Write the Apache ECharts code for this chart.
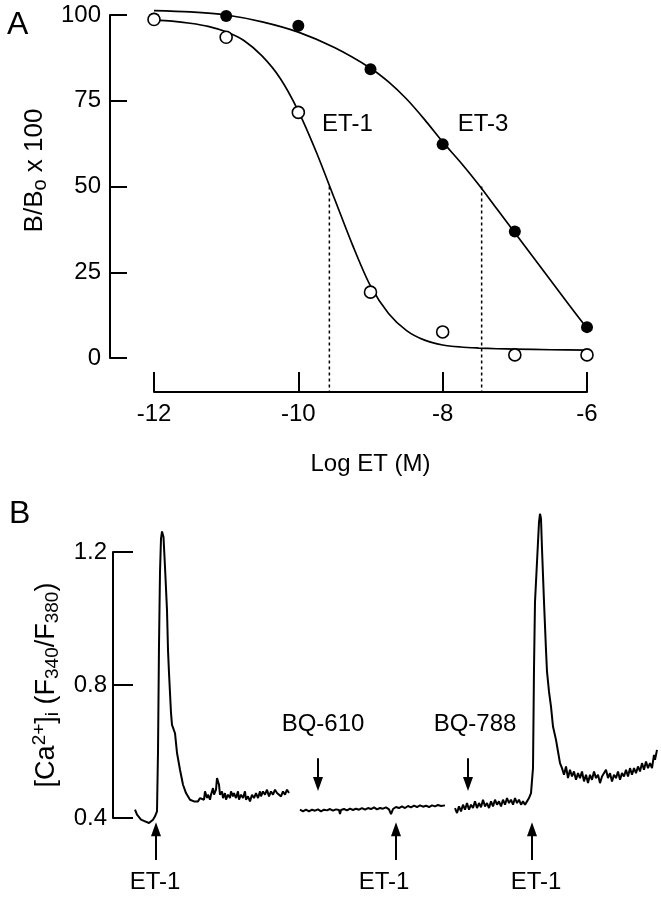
<!DOCTYPE html>
<html>
<head>
<meta charset="utf-8">
<script src="https://cdn.jsdelivr.net/npm/echarts@6/dist/echarts.min.js"></script>
<style>
html,body{margin:0;padding:0;background:#fff;}
#chart{width:661px;height:900px;}
</style>
</head>
<body>
<div id="chart"></div>
<script>
// ---------- Panel A data ----------
const logET = [-12, -11, -10, -9, -8, -7, -6];
const et1Points = [98.7, 93.5, 71.6, 19.2, 7.6, 0.9, 0.9];
const et3Points = [99.0, 99.7, 96.9, 84.2, 62.3, 36.9, 9.0];
const et1CurveX = [-12, -11.75, -11.5, -11.25, -11, -10.75, -10.5, -10.25, -10, -9.75, -9.5, -9.25, -9, -8.75, -8.5, -8.25, -8, -7.75, -7.5, -7.25, -7, -6.5, -6];
const et1CurveY = [98.5, 98.2, 97.6, 96.7, 95.1, 92.5, 88, 81.5, 72, 60, 46.5, 33, 21, 13, 8, 5.2, 3.8, 3.2, 2.9, 2.7, 2.6, 2.4, 2.3];
const et3CurveX = [-12, -11.5, -11, -10.5, -10, -9.5, -9, -8.75, -8.5, -8.25, -8, -7.75, -7.5, -7.25, -7, -6.75, -6.5, -6.25, -6];
const et3CurveY = [101.3, 100.9, 100, 98, 95, 90.5, 84.5, 80.5, 75.5, 69.5, 63, 57, 50.5, 43.5, 36.5, 29.5, 22.5, 15.5, 8.7];
const ic50LogET = [-9.57, -7.46];   // dotted lines at B/Bo = 50
const ic50Level = 50;
const xAxisLevel = -9.9;            // where the offset x axis sits, in B/Bo units
const xTicksA = [-12, -10, -8, -6];
const yTicksA = [0, 25, 50, 75, 100];
const curveLabelsA = ['ET-1', 'ET-3'];
const curveLabelPosA = [[-9.32, 68], [-7.44, 68]];

// ---------- Panel B data (time in arbitrary units, ratio F340/F380) ----------
const trace1 = [[22,0.425],[24,0.41],[26,0.405],[28,0.395],[30,0.40],[32,0.39],[34,0.395],[36,0.385],[38,0.39],[40,0.395],[42,0.405],[44,0.42],
  [45,0.6],[46,0.92],[47,1.14],[48,1.24],[49,1.262],[50.5,1.245],[52,1.155],[54,1.025],[55,0.905],[56,0.836],[58,0.716],[59,0.68],[60,0.672],[62,0.655],
  [64,0.596],[67,0.545],[70,0.50],[73,0.475],[75,0.47],[77,0.455],[79,0.46],[81,0.45],[83,0.455],[85,0.45],[87,0.46],[89,0.465],[91,0.455],[92,0.48],
  [94,0.46],[95,0.47],[97,0.455],[98,0.47],[100,0.49],[101,0.47],[103,0.485],[104,0.52],[106,0.50],[107,0.47],[109,0.48],[110,0.46],[112,0.475],
  [113,0.455],[115,0.47],[117,0.46],[118,0.48],[120,0.465],[121,0.475],[123,0.46],[125,0.48],[126,0.455],[128,0.47],[130,0.46],[132,0.48],[133,0.455],
  [135,0.465],[137,0.45],[139,0.47],[141,0.46],[143,0.475],[145,0.46],[147,0.48],[148,0.465],[150,0.48],[152,0.47],[154,0.485],[156,0.465],[158,0.48],
  [160,0.47],[162,0.485],[164,0.475],[166,0.48],[168,0.465],[170,0.48],[172,0.47],[174,0.485],[176,0.475]];
const trace2 = [[187,0.425],[190,0.42],[193,0.425],[196,0.42],[199,0.425],[202,0.422],[205,0.426],[208,0.42],[211,0.425],[214,0.423],[217,0.427],
  [220,0.422],[223,0.426],[226,0.424],[227,0.412],[228,0.424],[231,0.427],[234,0.423],[237,0.428],[240,0.424],[243,0.428],[246,0.425],[249,0.43],
  [252,0.425],[255,0.43],[258,0.427],[261,0.432],[264,0.426],[267,0.43],[270,0.428],[273,0.432],[276,0.426],[278,0.412],[280,0.427],[283,0.433],
  [286,0.43],[289,0.435],[292,0.43],[295,0.436],[298,0.432],[301,0.437],[304,0.433],[307,0.438],[310,0.434],[313,0.437],[316,0.433],[319,0.438],
  [322,0.435],[325,0.439],[328,0.436],[332,0.438]];
const trace3 = [[342,0.43],[344,0.415],[346,0.435],[348,0.42],[350,0.44],[352,0.425],[354,0.445],[356,0.425],[358,0.44],[360,0.43],[362,0.45],
  [364,0.43],[366,0.445],[368,0.432],[370,0.455],[372,0.435],[374,0.445],[376,0.43],[378,0.45],[380,0.435],[382,0.455],[384,0.44],[386,0.45],
  [388,0.435],[390,0.455],[392,0.44],[394,0.46],[396,0.445],[398,0.455],[400,0.44],[402,0.46],[404,0.445],[406,0.455],[408,0.44],[410,0.45],
  [412,0.44],[414,0.45],[416,0.46],[418,0.475],[420,0.55],[421,0.85],[422,1.05],[424,1.17],[425,1.23],[426,1.29],[427,1.315],[428,1.30],[429,1.21],
  [431,1.05],[433,0.905],[434,0.84],[436,0.78],[438,0.735],[440,0.675],[443,0.635],[445,0.6],[447,0.565],[449,0.55],[451,0.53],[453,0.555],
  [455,0.52],[457,0.545],[459,0.525],[461,0.54],[463,0.515],[465,0.535],[467,0.52],[469,0.54],[471,0.51],[473,0.53],[475,0.505],[477,0.53],
  [479,0.515],[481,0.54],[483,0.52],[485,0.53],[487,0.505],[489,0.525],[491,0.52],[493,0.545],[495,0.52],[497,0.535],[499,0.51],[501,0.53],
  [503,0.52],[505,0.54],[507,0.515],[509,0.535],[511,0.525],[513,0.545],[515,0.525],[517,0.55],[519,0.53],[521,0.55],[523,0.535],[525,0.555],
  [527,0.54],[529,0.565],[531,0.545],[533,0.57],[535,0.55],[537,0.565],[539,0.55],[541,0.59],[542,0.575],[544,0.605]];
const yTicksB = [0.4, 0.8, 1.2];
const upArrowT = [43, 283, 419];          // ET-1 additions
const upShaftFrom = 0.274, upHeadAt = 0.366;
const downArrowT = [205, 355];            // BQ-610, BQ-788
const downShaftFrom = 0.58, downHeadAt = 0.502;
const upLabels = ['ET-1', 'ET-1', 'ET-1'];
const upLabelT = [42, 271, 423];
const upLabelV = 0.205;
const downLabels = ['BQ-610', 'BQ-788'];
const downLabelT = [210, 362];
const downLabelV = 0.683;

// ---------- Chart ----------
const FONT = '"Liberation Sans", Arial, Helvetica, sans-serif';
const BLACK = '#000';
const FS = 24;
const zip = (xs, ys) => xs.map((x, i) => [x, ys[i]]);

const chart = echarts.init(document.getElementById('chart'), null, {renderer: 'canvas'});

const axisCommon = {
  axisLine: {show: true, onZero: false, lineStyle: {color: BLACK, width: 2}},
  axisTick: {show: true, inside: true, lineStyle: {color: BLACK, width: 2}},
  splitLine: {show: false},
  axisLabel: {color: BLACK, fontSize: FS, fontFamily: FONT}
};

const textOnly = {symbol: 'circle', symbolSize: 0, itemStyle: {color: '#fff', opacity: 1}, silent: true, clip: false, z: 6};
const labelStyle = {show: true, position: 'inside', formatter: p => p.name, fontSize: FS, color: BLACK, fontFamily: FONT,
  textBorderWidth: 0, opacity: 1};

const option = {
  animation: false,
  backgroundColor: '#fff',
  textStyle: {fontFamily: FONT, color: BLACK},
  grid: [
    {left: 154, right: 74, top: 15, height: 343},
    {left: 113, width: 548, top: 552, height: 266}
  ],
  xAxis: [
    Object.assign({}, axisCommon, {
      gridIndex: 0, type: 'value', min: xTicksA[0], max: xTicksA[xTicksA.length - 1], interval: 2, offset: 34,
      axisTick: {show: true, inside: true, length: 20, lineStyle: {color: BLACK, width: 2}},
      axisLabel: {color: BLACK, fontSize: FS, fontFamily: FONT, margin: 10},
      name: 'Log ET (M)', nameLocation: 'middle', nameGap: 60,
      nameTextStyle: {fontSize: FS, color: BLACK, fontFamily: FONT}
    }),
    {gridIndex: 1, type: 'value', min: 0, max: 548, show: false}
  ],
  yAxis: [
    Object.assign({}, axisCommon, {
      gridIndex: 0, type: 'value', min: yTicksA[0], max: yTicksA[yTicksA.length - 1], interval: 25, offset: 44,
      axisTick: {show: true, inside: true, length: 17, lineStyle: {color: BLACK, width: 2}},
      axisLabel: {color: BLACK, fontSize: FS, fontFamily: FONT, margin: 9},
      name: 'B/B{sub|o} x 100', nameLocation: 'middle', nameGap: 50,
      nameTextStyle: {fontSize: 26, color: BLACK, fontFamily: FONT, lineHeight: 30, padding: [0, 0, 0, 32],
        rich: {sub: {fontSize: 20, lineHeight: 22, verticalAlign: 'bottom', fontFamily: FONT, color: BLACK}}}
    }),
    Object.assign({}, axisCommon, {
      gridIndex: 1, type: 'value', min: yTicksB[0], max: yTicksB[yTicksB.length - 1], interval: 0.4,
      axisTick: {show: true, inside: true, length: 20, lineStyle: {color: BLACK, width: 2}},
      axisLabel: {color: BLACK, fontSize: FS, fontFamily: FONT, margin: 6, formatter: v => v.toFixed(1)},
      name: '[Ca{sup|2+}]{sub|i} (F{sub|340}/F{sub|380})', nameLocation: 'middle', nameGap: 46,
      nameTextStyle: {fontSize: 27, color: BLACK, fontFamily: FONT, lineHeight: 32,
        rich: {
          sub: {fontSize: 19, lineHeight: 24, verticalAlign: 'bottom', fontFamily: FONT, color: BLACK},
          sup: {fontSize: 19, lineHeight: 24, verticalAlign: 'top', fontFamily: FONT, color: BLACK}
        }}
    })
  ],
  series: [
    {type: 'line', xAxisIndex: 0, yAxisIndex: 0, data: zip(et3CurveX, et3CurveY), smooth: 0.3,
      symbol: 'none', clip: false, lineStyle: {color: BLACK, width: 1.7}, silent: true},
    {type: 'line', xAxisIndex: 0, yAxisIndex: 0, data: zip(et1CurveX, et1CurveY), smooth: 0.3,
      symbol: 'none', clip: false, lineStyle: {color: BLACK, width: 1.7}, silent: true},
    ...ic50LogET.map(x => ({type: 'line', xAxisIndex: 0, yAxisIndex: 0, data: [[x, ic50Level], [x, xAxisLevel]],
      symbol: 'none', clip: false, silent: true, lineStyle: {color: BLACK, width: 1.5, type: [3, 3]}})),
    {type: 'scatter', xAxisIndex: 0, yAxisIndex: 0, data: zip(logET, et3Points), symbol: 'circle', symbolSize: 12,
      itemStyle: {color: BLACK, opacity: 1}, clip: false, silent: true, z: 5},
    {type: 'scatter', xAxisIndex: 0, yAxisIndex: 0, data: zip(logET, et1Points), symbol: 'circle', symbolSize: 12,
      itemStyle: {color: '#fff', borderColor: BLACK, borderWidth: 1.6, opacity: 1}, clip: false, silent: true, z: 5},
    Object.assign({type: 'scatter', xAxisIndex: 0, yAxisIndex: 0,
      data: curveLabelPosA.map((p, i) => ({value: p, name: curveLabelsA[i]})), label: labelStyle}, textOnly),

    {type: 'line', xAxisIndex: 1, yAxisIndex: 1, data: trace1, symbol: 'none', clip: false, silent: true,
      lineStyle: {color: BLACK, width: 2}},
    {type: 'line', xAxisIndex: 1, yAxisIndex: 1, data: trace2, symbol: 'none', clip: false, silent: true,
      lineStyle: {color: BLACK, width: 2}},
    {type: 'line', xAxisIndex: 1, yAxisIndex: 1, data: trace3, symbol: 'none', clip: false, silent: true,
      lineStyle: {color: BLACK, width: 2}},
    // arrow shafts
    ...upArrowT.map(t => ({type: 'line', xAxisIndex: 1, yAxisIndex: 1, data: [[t, upShaftFrom], [t, upHeadAt]],
      symbol: 'none', clip: false, silent: true, lineStyle: {color: BLACK, width: 2}})),
    ...downArrowT.map(t => ({type: 'line', xAxisIndex: 1, yAxisIndex: 1, data: [[t, downShaftFrom], [t, downHeadAt]],
      symbol: 'none', clip: false, silent: true, lineStyle: {color: BLACK, width: 2}})),
    // arrow heads
    {type: 'scatter', xAxisIndex: 1, yAxisIndex: 1, data: upArrowT.map(t => [t, upHeadAt]), symbol: 'triangle',
      symbolSize: [10, 14], itemStyle: {color: BLACK, opacity: 1}, clip: false, silent: true, z: 5},
    {type: 'scatter', xAxisIndex: 1, yAxisIndex: 1, data: downArrowT.map(t => [t, downHeadAt]), symbol: 'triangle',
      symbolRotate: 180, symbolSize: [10, 14], itemStyle: {color: BLACK, opacity: 1}, clip: false, silent: true, z: 5},
    Object.assign({type: 'scatter', xAxisIndex: 1, yAxisIndex: 1,
      data: upLabelT.map((t, i) => ({value: [t, upLabelV], name: upLabels[i]}))
        .concat(downLabelT.map((t, i) => ({value: [t, downLabelV], name: downLabels[i]}))),
      label: labelStyle}, textOnly)
  ],
  graphic: [
    {type: 'text', left: 7, top: 9, style: {text: 'A', font: '32px ' + FONT, fill: BLACK}},
    {type: 'text', left: 9, top: 498, style: {text: 'B', font: '32px ' + FONT, fill: BLACK}}
  ]
};
chart.setOption(option);
</script>
</body>
</html>
